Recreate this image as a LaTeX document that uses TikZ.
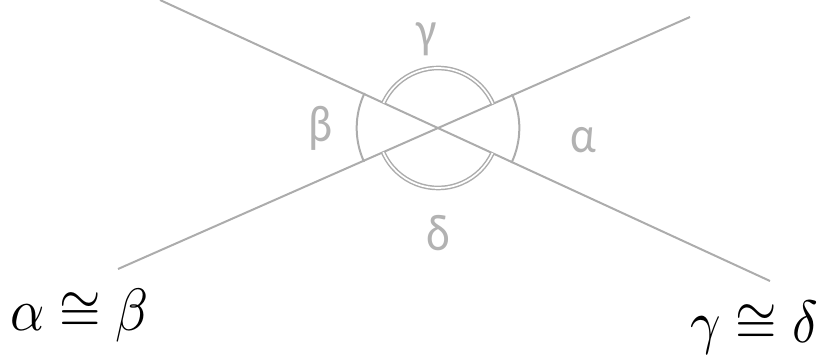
\documentclass[tikz,border=0pt]{standalone}
\usepackage{fontspec}
\usepackage{graphicx}
\newfontfamily\lblfont{Carlito}
\definecolor{lgray}{RGB}{172,172,172}
\definecolor{tgray}{RGB}{178,178,178}
\tikzset{
  ray/.style={draw=lgray, line width=1.5pt},
  singlearc/.style={draw=lgray, line width=1.5pt},
  doublearc/.style={draw=lgray, line width=1.1pt, double=white, double distance=1.3pt},
  anglelabel/.style={text=tgray, inner sep=0pt, anchor=base, font=\lblfont\fontsize{34}{36}\selectfont},
  formula/.style={inner sep=0pt}
}
\begin{document}
\begin{tikzpicture}[x=0.75pt,y=0.75pt]
\useasboundingbox (0,0) rectangle (823,354);
\coordinate (C) at (438,226);
\coordinate (L1a) at (160,354);
\coordinate (L1b) at (770,73);
\coordinate (L2a) at (118,85);
\coordinate (L2b) at (690,337);
\draw[ray] (L1a) -- (L1b);
\draw[ray] (L2a) -- (L2b);
% gamma (top) double arc
\draw[doublearc] ([shift={(155.3:45pt)}]C) arc[start angle=155.3, end angle=23.8, radius=45pt];
% delta (bottom) double arc
\draw[doublearc] ([shift={(203.8:45pt)}]C) arc[start angle=203.8, end angle=335.3, radius=45pt];
% alpha (right) arc
\draw[singlearc] ([shift={(-25.5:61pt)}]C) arc[start angle=-25.5, end angle=24.6, radius=61pt];
% beta (left) arc
\draw[singlearc] ([shift={(154.5:61pt)}]C) arc[start angle=154.5, end angle=204.6, radius=61pt];
\node[anglelabel] (g) at (427,306) {\scalebox{1}[1.14]{γ}};
\node[anglelabel] (b) at (321,213) {\scalebox{1}[1.14]{β}};
\node[anglelabel] (a) at (583,202) {\scalebox{1}[1.14]{α}};
\node[anglelabel] (d) at (438,104) {\scalebox{1}[1.14]{δ}};
\node[formula, anchor=base west] (f1) at (10,24) {\scalebox{4}[4.48]{$\alpha\cong\beta$}};
\node[formula, anchor=base east] (f2) at (818,12) {\scalebox{4}[4.48]{$\gamma\cong\delta$}};
\end{tikzpicture}
\end{document}
